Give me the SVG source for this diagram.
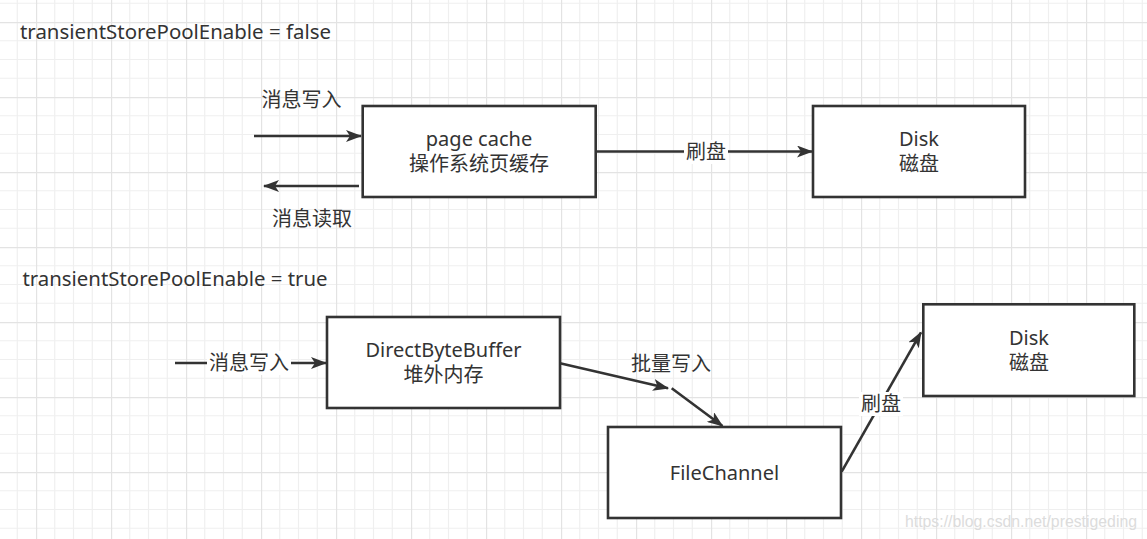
<svg xmlns="http://www.w3.org/2000/svg" width="1147" height="539" viewBox="0 0 1147 539">
<defs>
<pattern id="grid" x="36" y="22" width="75" height="75" patternUnits="userSpaceOnUse">
<g stroke="#efefef" stroke-width="1.2">
<line x1="18.75" y1="0" x2="18.75" y2="75"/>
<line x1="37.5" y1="0" x2="37.5" y2="75"/>
<line x1="56.25" y1="0" x2="56.25" y2="75"/>
<line x1="0" y1="18.75" x2="75" y2="18.75"/>
<line x1="0" y1="37.5" x2="75" y2="37.5"/>
<line x1="0" y1="56.25" x2="75" y2="56.25"/>
</g>
<g stroke="#e3e3e3" stroke-width="1.4">
<line x1="0.5" y1="0" x2="0.5" y2="75"/>
<line x1="0" y1="0.5" x2="75" y2="0.5"/>
</g>
</pattern>
<marker id="arr" viewBox="0 0 16 12" refX="15" refY="6" markerWidth="16" markerHeight="12" markerUnits="userSpaceOnUse" orient="auto">
<path d="M0,0 L16,6 L0,12 L4,6 Z" fill="#333333"/>
</marker>
</defs>
<style>
text{font-family:"Noto Sans","Noto Sans CJK SC",sans-serif;font-size:20px;fill:#333333}
.node rect{fill:#ffffff;stroke:#333333;stroke-width:2.6}
.mid{text-anchor:middle}
.edge{fill:none;stroke:#333333;stroke-width:2.6}
.lblbg{fill:#ffffff}
.wm{font-family:"Liberation Sans",sans-serif;font-size:16px;fill:#dcdcdc}
</style>
<rect x="0" y="0" width="1147" height="539" fill="#ffffff"/>
<rect x="0" y="0" width="1147" height="539" fill="url(#grid)"/>

<text id="title1" x="20" y="38.5" textLength="311" lengthAdjust="spacingAndGlyphs">transientStorePoolEnable = false</text>
<text id="title2" x="22.5" y="285.7" textLength="305" lengthAdjust="spacingAndGlyphs">transientStorePoolEnable = true</text>

<g id="connectors">
<line class="edge" x1="254" y1="136" x2="361" y2="136" marker-end="url(#arr)"/>
<line class="edge" x1="359" y1="186" x2="264" y2="186" marker-end="url(#arr)"/>
<line class="edge" x1="596" y1="151.5" x2="812" y2="151.5" marker-end="url(#arr)"/>
<rect class="lblbg" x="684" y="140" width="44" height="24"/>
<text class="mid" x="706" y="159">刷盘</text>
<line class="edge" x1="175" y1="363" x2="326" y2="363" marker-end="url(#arr)"/>
<rect class="lblbg" x="207" y="351" width="84" height="24"/>
<text class="mid" x="249" y="370">消息写入</text>
<line class="edge" x1="560" y1="363.3" x2="668" y2="388.3" marker-end="url(#arr)"/>
<line class="edge" x1="671.7" y1="388.3" x2="722.5" y2="426" marker-end="url(#arr)"/>
<line class="edge" x1="841.7" y1="471.7" x2="921" y2="332.3" marker-end="url(#arr)"/>
<rect class="lblbg" x="859" y="392" width="44" height="24"/>
<text class="mid" x="881" y="411">刷盘</text>
</g>

<g id="label-write-top"><text class="mid" x="301.5" y="107">消息写入</text></g>
<g id="label-read-top"><text class="mid" x="312" y="226">消息读取</text></g>
<g id="label-batch"><text class="mid" x="671" y="371">批量写入</text></g>

<g id="pagecache" class="node">
<rect x="362.7" y="106" width="233" height="91"/>
<text class="mid" x="479" y="146">page cache</text>
<text class="mid" x="479" y="171">操作系统页缓存</text>
</g>
<g id="disk1" class="node">
<rect x="813" y="106" width="212" height="91"/>
<text class="mid" x="919" y="146">Disk</text>
<text class="mid" x="919" y="171">磁盘</text>
</g>
<g id="directbytebuffer" class="node">
<rect x="327" y="317" width="233" height="91"/>
<text class="mid" x="443.5" y="357">DirectByteBuffer</text>
<text class="mid" x="443.5" y="382">堆外内存</text>
</g>
<g id="filechannel" class="node">
<rect x="608" y="427" width="233" height="91"/>
<text class="mid" x="724.5" y="480">FileChannel</text>
</g>
<g id="disk2" class="node">
<rect x="923.3" y="304.3" width="211" height="91.7"/>
<text class="mid" x="1029" y="345">Disk</text>
<text class="mid" x="1029" y="370">磁盘</text>
</g>

<text id="watermark" class="wm" x="905" y="527" textLength="232" lengthAdjust="spacingAndGlyphs">https://blog.csdn.net/prestigeding</text>
</svg>
